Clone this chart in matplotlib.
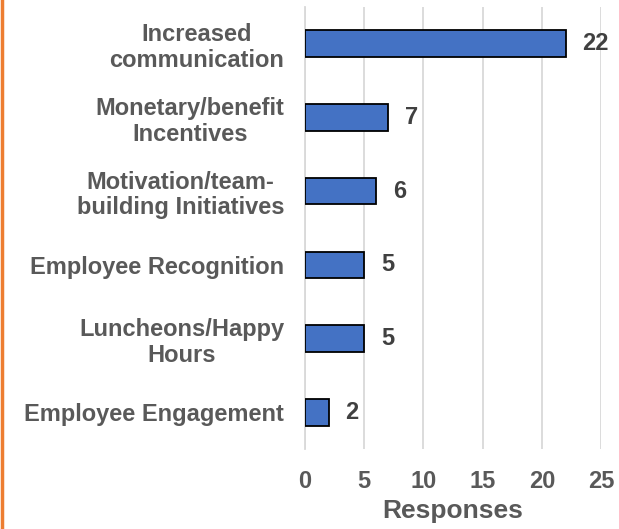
import matplotlib
matplotlib.use("Agg")
import matplotlib.pyplot as plt
from matplotlib.lines import Line2D

plt.rcParams['font.family'] = ['Liberation Sans', 'DejaVu Sans']

categories = [
    "Increased\ncommunication",
    "Monetary/benefit\nIncentives",
    "Motivation/team-\nbuilding Initiatives",
    "Employee Recognition",
    "Luncheons/Happy\nHours",
    "Employee Engagement",
]
responses = [22, 7, 6, 5, 5, 2]
x_ticks = [0, 5, 10, 15, 20, 25]
x_label = "Responses"

text_gray = "#595959"
label_gray = "#404040"
grid_gray = "#D9D9D9"
bar_blue = "#4472C4"
frame_orange = "#ED7D31"

fig = plt.figure(figsize=(6.19, 5.29), dpi=100)
ax = fig.add_axes([0.4927, 0.151, 0.4785, 0.836])

ypos = list(range(len(categories)))
ax.barh(ypos, responses, height=0.36, color=bar_blue,
        edgecolor="black", linewidth=1.3, zorder=3)
ax.set_ylim(len(categories) - 0.5, -0.5)
ax.set_xlim(0, 25)

ax.set_yticks(ypos)
ax.set_yticklabels(categories)
for lbl in ax.get_yticklabels():
    lbl.set_multialignment("center")
    lbl.set_fontsize(17)
    lbl.set_fontweight("bold")
    lbl.set_color(text_gray)
    lbl.set_linespacing(1.15)

ax.set_xticks(x_ticks)
ax.set_xticklabels([str(t) for t in x_ticks], fontsize=17,
                   fontweight="bold", color=text_gray)
ax.tick_params(axis="both", length=0)
ax.tick_params(axis="x", pad=15)
ax.tick_params(axis="y", pad=15)

ax.set_xlabel(x_label, fontsize=19, fontweight="bold", color=text_gray,
              labelpad=4)

ax.grid(axis="x", color=grid_gray, linewidth=1.3, zorder=0)
for side in ["top", "right", "bottom"]:
    ax.spines[side].set_visible(False)
ax.spines["left"].set_color(grid_gray)
ax.spines["left"].set_linewidth(1.3)

for y, v in zip(ypos, responses):
    ax.annotate(str(v), xy=(v, y), xytext=(12, 0), textcoords="offset points",
                ha="left", va="center", fontsize=17, fontweight="bold",
                color=label_gray)

# orange rule along the left edge
fig.add_artist(Line2D([0.0025, 0.0025], [0, 1], transform=fig.transFigure,
                      color=frame_orange, linewidth=2.5))

fig.savefig("out.png", dpi=100)
